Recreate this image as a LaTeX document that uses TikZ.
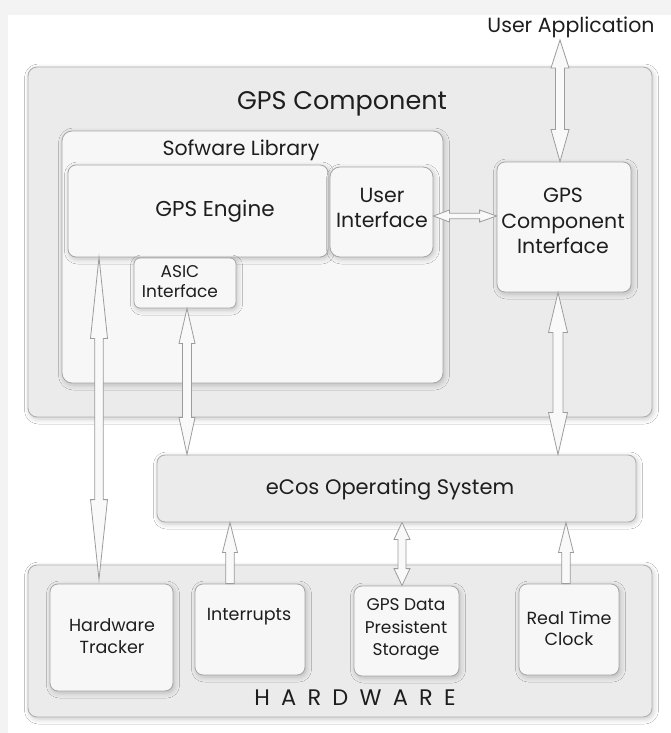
\documentclass[tikz,border=0pt]{standalone}
\usepackage{fontspec}
\setmainfont{Poppins}
\usetikzlibrary{calc,shadows.blur}
\definecolor{pagegray}{HTML}{F3F3F3}
\definecolor{outerfill}{HTML}{EBEBEB}
\definecolor{outerdraw}{HTML}{B0B0B0}
\definecolor{innerfill}{HTML}{F7F7F7}
\definecolor{innerdraw}{HTML}{A6A6A6}
\definecolor{arrdraw}{HTML}{9C9C9C}
\definecolor{arrfill}{HTML}{F9F9F9}
\definecolor{txt}{HTML}{1E1E1E}
\tikzset{
  shad/.style={blur shadow={shadow xshift=1.5pt, shadow yshift=-2pt, shadow blur radius=5pt, shadow opacity=22}},
  outerbox/.style={draw=outerdraw, fill=outerfill, rounded corners=9pt, line width=0.9pt, inner sep=0pt, shad},
  innerbox/.style={draw=innerdraw, fill=innerfill, rounded corners=8pt, line width=0.8pt, inner sep=0pt, shad},
  lbl/.style 2 args={text=txt, inner sep=0pt, align=center, font=\fontsize{#1}{#2}\selectfont},
  blockarr/.style={draw=arrdraw, fill=arrfill, line width=0.8pt, line join=miter},
}
% double-headed block arrow: A, B, head at A, head at B, head half width, shaft half width
\newcommand\myDblArrow[6]{%
  \draw[blockarr] (#1) -- ($(#1)!#3!(#2)!#5!90:(#2)$) -- ($(#1)!#3!(#2)!#6!90:(#2)$)
   -- ($(#2)!#4!(#1)!#6!-90:(#1)$) -- ($(#2)!#4!(#1)!#5!-90:(#1)$) -- (#2)
   -- ($(#2)!#4!(#1)!#5!90:(#1)$) -- ($(#2)!#4!(#1)!#6!90:(#1)$)
   -- ($(#1)!#3!(#2)!#6!-90:(#2)$) -- ($(#1)!#3!(#2)!#5!-90:(#2)$) -- cycle;}
% single-headed block arrow from A to B: head length, head half width, shaft half width
\newcommand\mySglArrow[5]{%
  \draw[blockarr] ($(#1)!#5!90:(#2)$) -- ($(#2)!#3!(#1)!#5!-90:(#1)$)
   -- ($(#2)!#3!(#1)!#4!-90:(#1)$) -- (#2) -- ($(#2)!#3!(#1)!#4!90:(#1)$)
   -- ($(#2)!#3!(#1)!#5!90:(#1)$) -- ($(#1)!#5!-90:(#2)$) -- cycle;}
\begin{document}
\begin{tikzpicture}[x=1pt,y=-1pt]
\useasboundingbox (0,0) rectangle (671,733);
\fill[pagegray] (0,0) rectangle (671,733);
\fill[white] (8,15) rectangle (671,733);

% GPS component
\node[outerbox, minimum width=624pt, minimum height=350pt] (gpscomp) at (340,242) {};
\node[lbl={25.5}{30}] (gpstitle) at (342,104) {GPS Component};
\node[innerbox, rounded corners=10pt, minimum width=381pt, minimum height=252pt] (swlib) at (252.5,257) {};
\node[lbl={20.5}{24}] (swtitle) at (241,150) {Sofware Library};
\node[innerbox, minimum width=260pt, minimum height=92pt] (engine) at (198,211) {};
\node[lbl={21.5}{25}] (enginetxt) at (215,211) {GPS Engine};
\node[innerbox, rounded corners=10pt, minimum width=103pt, minimum height=90pt] (ui) at (381.5,212) {};
\node[lbl={20.5}{25}] (uitxt) at (382,208) {User\\Interface};
\node[innerbox, rounded corners=6pt, minimum width=102pt, minimum height=50pt] (asic) at (185,283) {};
\node[lbl={17}{20}] (asictxt) at (180,282) {ASIC\\Interface};
\node[innerbox, minimum width=134pt, minimum height=130pt] (gci) at (564,227) {};
\node[lbl={20.5}{25.5}] (gcitxt) at (563,221) {GPS\\Component\\Interface};

% eCos
\node[outerbox, rounded corners=8pt, minimum width=479pt, minimum height=67pt] (ecos) at (396.5,488.5) {};
\node[lbl={21}{25}] (ecostxt) at (390,489) {eCos Operating System};

% Hardware
\node[outerbox, rounded corners=9pt, minimum width=624pt, minimum height=152pt] (hw) at (340,641) {};
\node[lbl={22.5}{26}] (hwtxt) at (355,698) {\addfontfeature{LetterSpace=50}HARDWARE};
\node[innerbox, minimum width=123pt, minimum height=107pt] (tracker) at (111.5,637.5) {};
\node[lbl={17.5}{22}] (trackertxt) at (112,636) {Hardware\\Tracker};
\node[innerbox, minimum width=110pt, minimum height=91pt] (intr) at (250,629.5) {};
\node[lbl={17.5}{22}] (intrtxt) at (249,617) {Interrupts};
\node[innerbox, minimum width=105pt, minimum height=90pt] (store) at (406.5,631) {};
\node[lbl={17}{22.5}] (storetxt) at (406,629.5) {GPS Data\\Presistent\\Storage};
\node[innerbox, minimum width=100pt, minimum height=91pt] (rtc) at (569,629.5) {};
\node[lbl={17.5}{21}] (rtctxt) at (569,628.5) {Real Time\\Clock};

% User application
\node[lbl={20.5}{24}] (userapp) at (571,27) {User Application};

% connectors
\coordinate (uaend) at (560,40);
\myDblArrow{uaend}{uaend |- gci.north}{28pt}{32pt}{9pt}{4.5pt}
\coordinate (uiend) at ($(ui.east)+(0,4)$);
\myDblArrow{uiend}{uiend -| gci.west}{16pt}{17pt}{6pt}{2.8pt}
\coordinate (trkx) at (99,0);
\coordinate (trktop) at (trkx |- engine.south);
\coordinate (trkbot) at ($(trkx |- tracker.north)+(0,-4)$);
\myDblArrow{trktop}{trkbot}{81pt}{80pt}{8.5pt}{4.2pt}
\coordinate (asicx) at (187,0);
\myDblArrow{asicx |- asic.south}{asicx |- ecos.north}{35pt}{37pt}{8pt}{4.5pt}
\coordinate (gcix) at (558,0);
\myDblArrow{gcix |- gci.south}{gcix |- ecos.north}{40pt}{42pt}{9.5pt}{5pt}
\coordinate (intrx) at (230,0);
\mySglArrow{intrx |- intr.north}{intrx |- ecos.south}{30pt}{7.5pt}{4.2pt}
\coordinate (storex) at (402,0);
\myDblArrow{storex |- store.north}{storex |- ecos.south}{17pt}{17pt}{8pt}{4pt}
\coordinate (rtcx) at (566,0);
\mySglArrow{rtcx |- rtc.north}{rtcx |- ecos.south}{30pt}{7.5pt}{4.2pt}
\end{tikzpicture}
\end{document}
